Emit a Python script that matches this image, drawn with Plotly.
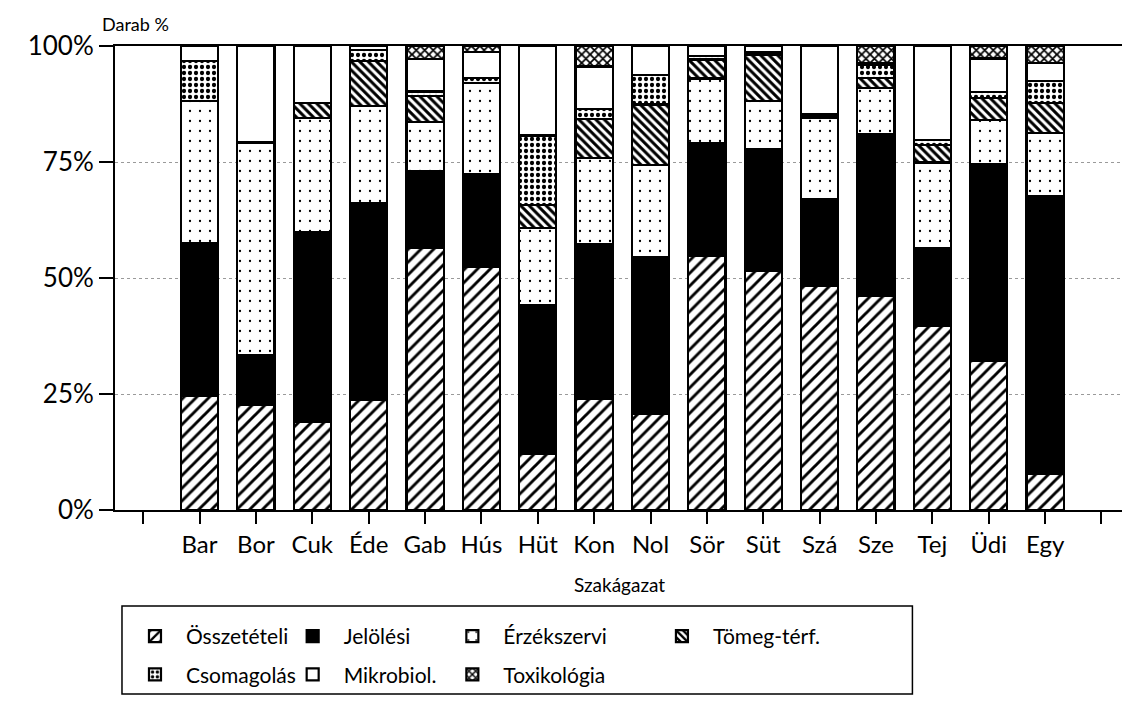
import plotly.graph_objects as go

# Szakágazatok (categories)
kategoriak = ["Bar", "Bor", "Cuk", "Éde", "Gab", "Hús", "Hüt", "Kon",
              "Nol", "Sör", "Süt", "Szá", "Sze", "Tej", "Üdi", "Egy"]

# Darab % per kifogás típus
osszetetel = [24.6, 22.7, 18.9, 23.8, 56.5, 52.5, 12.1, 23.9, 20.7, 54.8, 51.6, 48.2, 46.1, 39.7, 32.2, 7.8]
jeloles    = [32.9, 10.6, 40.9, 42.4, 16.5, 20.0, 32.0, 33.3, 33.8, 24.3, 26.1, 18.8, 34.9, 16.8, 42.4, 59.9]
erzekszerv = [30.7, 45.9, 24.7, 20.9, 10.6, 19.5, 16.7, 18.7, 19.8, 13.9, 10.5, 17.5, 9.9, 18.4, 9.5, 13.5]
tomeg      = [0.0, 0.0, 3.2, 9.6, 5.6, 0.0, 5.0, 8.4, 13.1, 4.1, 9.9, 0.5, 2.2, 3.7, 4.7, 6.5]
csomagolas = [8.5, 0.0, 0.0, 2.5, 1.0, 1.1, 14.9, 2.2, 6.4, 0.7, 0.5, 0.3, 2.9, 1.2, 1.3, 4.8]
mikrobiol  = [3.3, 20.8, 12.3, 0.8, 7.0, 5.6, 19.3, 9.1, 6.2, 2.2, 1.4, 14.7, 0.3, 20.2, 7.2, 3.8]
toxikol    = [0.0, 0.0, 0.0, 0.0, 2.8, 1.3, 0.0, 4.4, 0.0, 0.0, 0.0, 0.0, 3.7, 0.0, 2.7, 3.7]

y_ticks = [0, 25, 50, 75, 100]
y_labels = [f"{v}%" for v in y_ticks]

FONT = "Lato"

# one empty slot before and after the categories, like the original
xpos = [i + 1 for i in range(len(kategoriak))]
tickvals = list(range(len(kategoriak) + 2))
ticktext = [""] + kategoriak + [""]

# name, values, pattern shape, pattern size, solidity, fill colour, legend (column)
series = [
    ("Összetételi", osszetetel, "/", 9, 0.32, "white", "legend"),
    ("Jelölési", jeloles, "", 8, 0.3, "black", "legend2"),
    ("Érzékszervi", erzekszerv, ".", 10, 0.04, "white", "legend3"),
    ("Tömeg-térf.", tomeg, "\\", 6, 0.5, "white", "legend4"),
    ("Csomagolás", csomagolas, ".", 6, 0.4, "white", "legend"),
    ("Mikrobiol.", mikrobiol, "", 8, 0.3, "white", "legend2"),
    ("Toxikológia", toxikol, "x", 6, 0.5, "white", "legend3"),
]

fig = go.Figure()
for name, vals, shape, size, solid, color, leg in series:
    fig.add_trace(go.Bar(
        x=xpos,
        y=vals,
        name=name,
        width=0.66,
        legend=leg,
        legendgroup=name,
        marker=dict(
            color=color,
            line=dict(color="black", width=2.2),
            pattern=dict(shape=shape, size=size, solidity=solid,
                         fgcolor="black", fgopacity=1, bgcolor=color,
                         fillmode="overlay"),
        ),
    ))

# plot area in pixels: x 107..1118, y 38..502
def px_x(p):
    return (p - 107) / 1011

def px_y(p):
    return (502 - p) / 464

leg_common = dict(
    orientation="v",
    xanchor="left",
    yanchor="top",
    font=dict(family=FONT, size=21, color="black"),
    bgcolor="rgba(0,0,0,0)",
    traceorder="grouped",
    tracegroupgap=8,
    itemwidth=52,
)

fig.update_layout(
    width=1130,
    height=714,
    barmode="stack",
    plot_bgcolor="white",
    paper_bgcolor="white",
    margin=dict(l=107, r=12, t=38, b=212),
    font=dict(family=FONT, color="black"),
    showlegend=True,
    legend=dict(x=px_x(116), y=px_y(608), **leg_common),
    legend2=dict(x=px_x(274), y=px_y(608), **leg_common),
    legend3=dict(x=px_x(434), y=px_y(608), **leg_common),
    legend4=dict(x=px_x(644), y=px_y(608), **leg_common),
    xaxis=dict(
        range=[-0.5, 17.4],
        tickmode="array",
        tickvals=tickvals,
        ticktext=ticktext,
        ticks="outside",
        ticklen=12,
        tickwidth=1.5,
        tickcolor="black",
        showline=True,
        linecolor="black",
        linewidth=2,
        mirror=True,
        showgrid=False,
        zeroline=False,
        tickfont=dict(family=FONT, size=24, color="black"),
    ),
    yaxis=dict(
        range=[0, 100],
        tickmode="array",
        tickvals=y_ticks,
        ticktext=y_labels,
        ticks="outside",
        ticklen=14,
        tickwidth=1.5,
        tickcolor="black",
        showline=True,
        linecolor="black",
        linewidth=2,
        mirror=True,
        showgrid=True,
        gridcolor="#9a9a9a",
        griddash="dot",
        gridwidth=1,
        zeroline=False,
        tickfont=dict(family=FONT, size=26, color="black"),
    ),
    shapes=[
        dict(type="rect", xref="paper", yref="paper",
             x0=px_x(114), x1=px_x(906), y0=px_y(686), y1=px_y(598),
             line=dict(color="black", width=1.5)),
    ],
    annotations=[
        dict(text="Darab %", xref="paper", yref="paper",
             x=px_x(92), y=px_y(16), xanchor="left", yanchor="middle",
             showarrow=False, font=dict(family=FONT, size=18, color="black")),
        dict(text="Szakágazat", xref="paper", yref="paper",
             x=px_x(612), y=px_y(576), xanchor="center", yanchor="middle",
             showarrow=False, font=dict(family=FONT, size=19, color="black")),
    ],
)

fig.write_html("out.html")
